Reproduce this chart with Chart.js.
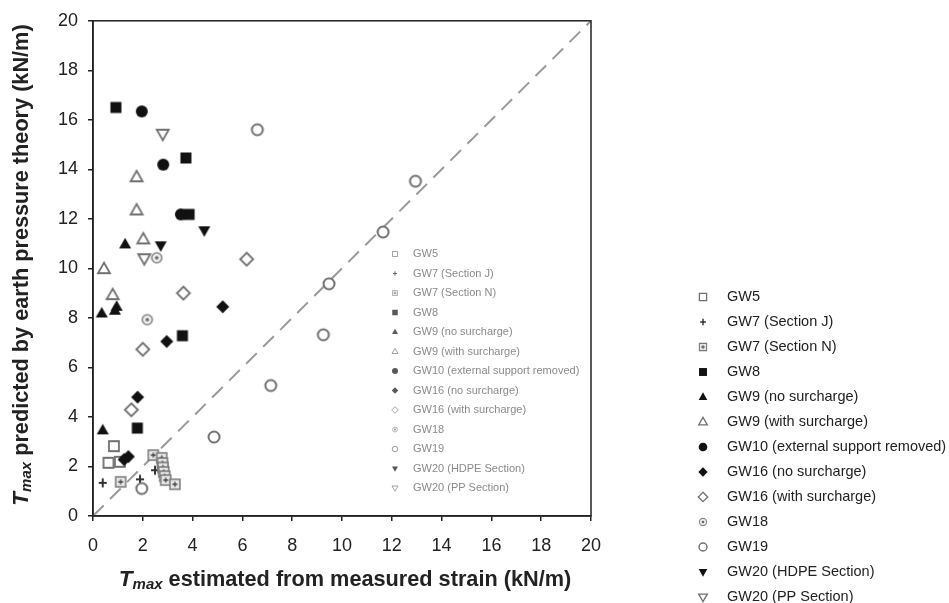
<!DOCTYPE html>
<html>
<head>
<meta charset="utf-8">
<script src="https://cdn.jsdelivr.net/npm/chart.js@4.4.1/dist/chart.umd.min.js"></script>
<style>
  html, body { margin: 0; padding: 0; background: #fff; }
  #wrap { width: 949px; height: 603px; }
</style>
</head>
<body>
<div id="wrap"><canvas id="chart" width="949" height="603"></canvas></div>
<script>
var fontFamily = '"Liberation Sans", Arial, Helvetica, sans-serif';

// Tmax values: x = from measured strain, y = from earth pressure theory (kN/m)
var gw5X = [0.84, 0.62, 1.08];
var gw5Y = [2.82, 2.15, 2.19];
var gw7jX = [0.39, 1.89, 2.49];
var gw7jY = [1.34, 1.48, 1.85];
var gw7nX = [1.11, 2.42, 2.76, 2.79, 2.81, 2.84, 2.88, 2.92, 3.29];
var gw7nY = [1.38, 2.46, 2.35, 2.14, 1.96, 1.78, 1.61, 1.45, 1.28];
var gw8X = [0.92, 3.73, 3.86, 3.59, 1.78];
var gw8Y = [16.5, 14.46, 12.18, 7.28, 3.55];
var gw9noX = [1.29, 0.95, 0.88, 0.35, 0.39];
var gw9noY = [10.97, 8.45, 8.29, 8.18, 3.46];
var gw9withX = [1.75, 1.75, 2.02, 0.44, 0.79];
var gw9withY = [13.68, 12.34, 11.17, 9.97, 8.92];
var gw10X = [1.96, 2.82, 3.53];
var gw10Y = [16.34, 14.19, 12.18];
var gw16noX = [5.21, 2.96, 1.79, 1.42, 1.25];
var gw16noY = [8.45, 7.05, 4.8, 2.4, 2.28];
var gw16withX = [6.17, 3.63, 2.0, 1.54];
var gw16withY = [10.37, 9.0, 6.73, 4.29];
var gw18X = [2.56, 2.18];
var gw18Y = [10.43, 7.93];
var gw19X = [6.6, 12.95, 11.65, 9.48, 9.25, 7.14, 4.86, 1.96];
var gw19Y = [15.6, 13.52, 11.47, 9.38, 7.32, 5.27, 3.19, 1.11];
var gw20hX = [4.47, 2.72];
var gw20hY = [11.54, 10.93];
var gw20pX = [2.8, 2.06];
var gw20pY = [15.44, 10.41];

var seriesNames = ['GW5', 'GW7 (Section J)', 'GW7 (Section N)', 'GW8', 'GW9 (no surcharge)',
  'GW9 (with surcharge)', 'GW10 (external support removed)', 'GW16 (no surcharge)',
  'GW16 (with surcharge)', 'GW18', 'GW19', 'GW20 (HDPE Section)', 'GW20 (PP Section)'];
var seriesX = [gw5X, gw7jX, gw7nX, gw8X, gw9noX, gw9withX, gw10X, gw16noX, gw16withX, gw18X, gw19X, gw20hX, gw20pX];
var seriesY = [gw5Y, gw7jY, gw7nY, gw8Y, gw9noY, gw9withY, gw10Y, gw16noY, gw16withY, gw18Y, gw19Y, gw20hY, gw20pY];
var markerKinds = ['sqOpen', 'plus', 'sqCross', 'sqFill', 'triFill', 'triOpen', 'dotFill',
  'diaFill', 'diaOpen', 'ringDot', 'ring', 'triDownFill', 'triDownOpen'];

var axisTicks = [0, 2, 4, 6, 8, 10, 12, 14, 16, 18, 20];
var oneToOne = [0, 20];

function poly(ctx, pts) {
  ctx.beginPath();
  ctx.moveTo(pts[0][0], pts[0][1]);
  for (var i = 1; i < pts.length; i++) ctx.lineTo(pts[i][0], pts[i][1]);
  ctx.closePath();
}

// draws one marker shape centred on x,y, scaled by s
function drawMarker(ctx, kind, x, y, s) {
  var dark = '#111', grey = '#707070';
  ctx.save();
  ctx.translate(x, y);
  ctx.scale(s, s);
  ctx.lineJoin = 'miter';
  switch (kind) {
    case 'sqOpen':
      ctx.beginPath(); ctx.rect(-5, -5, 10, 10);
      ctx.fillStyle = '#fff'; ctx.fill();
      ctx.strokeStyle = grey; ctx.lineWidth = 1.8; ctx.stroke();
      break;
    case 'plus':
      ctx.beginPath();
      ctx.moveTo(-4, 0); ctx.lineTo(4, 0);
      ctx.moveTo(0, -4.5); ctx.lineTo(0, 4.5);
      ctx.strokeStyle = '#333'; ctx.lineWidth = 2; ctx.stroke();
      break;
    case 'sqCross':
      ctx.beginPath(); ctx.rect(-5, -5, 10, 10);
      ctx.fillStyle = '#e6e6e6'; ctx.fill();
      ctx.strokeStyle = '#7a7a7a'; ctx.lineWidth = 1.5; ctx.stroke();
      ctx.beginPath();
      ctx.moveTo(-2.5, 0); ctx.lineTo(2.5, 0);
      ctx.moveTo(0, -2.5); ctx.lineTo(0, 2.5);
      ctx.strokeStyle = '#444'; ctx.lineWidth = 1.3; ctx.stroke();
      break;
    case 'sqFill':
      ctx.fillStyle = dark; ctx.fillRect(-5.5, -5.5, 11, 11);
      break;
    case 'triFill':
      poly(ctx, [[0, -6.5], [6, 4], [-6, 4]]);
      ctx.fillStyle = dark; ctx.fill();
      break;
    case 'triOpen':
      poly(ctx, [[0, -6.5], [6, 4], [-6, 4]]);
      ctx.fillStyle = '#fff'; ctx.fill();
      ctx.strokeStyle = grey; ctx.lineWidth = 1.8; ctx.stroke();
      break;
    case 'dotFill':
      ctx.beginPath(); ctx.arc(0, 0, 6, 0, Math.PI * 2);
      ctx.fillStyle = dark; ctx.fill();
      break;
    case 'diaFill':
      poly(ctx, [[0, -6.5], [6.5, 0], [0, 6.5], [-6.5, 0]]);
      ctx.fillStyle = dark; ctx.fill();
      break;
    case 'diaOpen':
      poly(ctx, [[0, -6.5], [6.5, 0], [0, 6.5], [-6.5, 0]]);
      ctx.fillStyle = '#fff'; ctx.fill();
      ctx.strokeStyle = grey; ctx.lineWidth = 1.8; ctx.stroke();
      break;
    case 'ringDot':
      ctx.beginPath(); ctx.arc(0, 0, 5, 0, Math.PI * 2);
      ctx.fillStyle = '#efefef'; ctx.fill();
      ctx.strokeStyle = '#888'; ctx.lineWidth = 1.6; ctx.stroke();
      ctx.beginPath(); ctx.arc(0, 0, 1.8, 0, Math.PI * 2);
      ctx.fillStyle = '#666'; ctx.fill();
      break;
    case 'ring':
      ctx.beginPath(); ctx.arc(0, 0, 5.5, 0, Math.PI * 2);
      ctx.fillStyle = '#fff'; ctx.fill();
      ctx.strokeStyle = grey; ctx.lineWidth = 2; ctx.stroke();
      break;
    case 'triDownFill':
      poly(ctx, [[0, 6.5], [6, -4], [-6, -4]]);
      ctx.fillStyle = dark; ctx.fill();
      break;
    case 'triDownOpen':
      poly(ctx, [[0, 6.5], [6, -4], [-6, -4]]);
      ctx.fillStyle = '#fff'; ctx.fill();
      ctx.strokeStyle = grey; ctx.lineWidth = 1.8; ctx.stroke();
      break;
  }
  ctx.restore();
}

function markerCanvas(kind) {
  var c = document.createElement('canvas');
  c.width = 20; c.height = 20;
  drawMarker(c.getContext('2d'), kind, 10, 10, 1);
  return c;
}

var datasets = seriesNames.map(function (name, i) {
  return {
    label: name,
    data: seriesX[i].map(function (x, j) { return { x: x, y: seriesY[i][j] }; }),
    pointStyle: markerCanvas(markerKinds[i]),
    pointRadius: 6,
    order: 13 - i
  };
});

// dashed 1:1 line
datasets.push({
  label: '1:1',
  data: oneToOne.map(function (v) { return { x: v, y: v }; }),
  showLine: true,
  borderColor: '#9a9a9a',
  borderWidth: 2,
  borderDash: [15, 9],
  pointRadius: 0,
  order: 100
});

// draws the two legends, the closed frame and the axis titles
var decorations = {
  id: 'decorations',
  afterDraw: function (chart) {
    var ctx = chart.ctx;
    var area = chart.chartArea;

    ctx.save();
    ctx.strokeStyle = '#222';
    ctx.lineWidth = 1.5;
    ctx.strokeRect(area.left, area.top, area.right - area.left, area.bottom - area.top);

    // small legend inside the plot
    ctx.textBaseline = 'middle';
    ctx.textAlign = 'left';
    ctx.font = '11px ' + fontFamily;
    seriesNames.forEach(function (name, i) {
      var y = 254 + i * 19.5;
      ctx.globalAlpha = 0.7;
      drawMarker(ctx, markerKinds[i], 395, y, 0.5);
      ctx.globalAlpha = 1;
      ctx.fillStyle = '#8a8a8a';
      ctx.fillText(name, 413, y);
    });

    // main legend on the right
    ctx.font = '14.5px ' + fontFamily;
    seriesNames.forEach(function (name, i) {
      var y = 297 + i * 25;
      drawMarker(ctx, markerKinds[i], 703, y, 0.72);
      ctx.fillStyle = '#222';
      ctx.fillText(name, 727, y);
    });

    // axis titles with italic subscript Tmax
    function titleParts() {
      return [
        { t: 'T', f: 'italic bold 22.5px ' + fontFamily, dy: 0 },
        { t: 'max', f: 'italic bold 15px ' + fontFamily, dy: 5 },
        { t: null, f: 'bold 21.7px ' + fontFamily, dy: 0 }
      ];
    }
    function drawTitle(rest, cx, cy, rot) {
      var parts = titleParts();
      parts[2].t = rest;
      var total = 0;
      parts.forEach(function (p) { ctx.font = p.f; p.w = ctx.measureText(p.t).width; total += p.w; });
      ctx.save();
      ctx.translate(cx, cy);
      ctx.rotate(rot);
      ctx.fillStyle = '#222';
      ctx.textAlign = 'left';
      ctx.textBaseline = 'middle';
      var x = -total / 2;
      parts.forEach(function (p) {
        ctx.font = p.f;
        ctx.fillText(p.t, x, p.dy);
        x += p.w;
      });
      ctx.restore();
    }
    drawTitle(' estimated from measured strain (kN/m)', 345, 580, 0);
    drawTitle(' predicted by earth pressure theory (kN/m)', 22, 265, -Math.PI / 2);
    ctx.restore();
  }
};

function axisOptions(fit) {
  return {
    type: 'linear',
    min: 0,
    max: 20,
    afterBuildTicks: function (scale) {
      scale.ticks = axisTicks.map(function (v) { return { value: v }; });
    },
    ticks: {
      color: '#222',
      font: { size: 18, family: fontFamily },
      padding: 12
    },
    grid: {
      drawOnChartArea: false,
      drawTicks: true,
      tickLength: 5,
      color: '#222',
      lineWidth: 1.5
    },
    border: { color: '#222', width: 1.5 },
    afterFit: fit
  };
}

var xAxis = axisOptions(function (scale) { scale.height = 87; });
xAxis.ticks.padding = 14;
var yAxis = axisOptions(function (scale) { scale.width = 93; });
yAxis.ticks.padding = 10;

new Chart(document.getElementById('chart').getContext('2d'), {
  type: 'scatter',
  data: { datasets: datasets },
  options: {
    responsive: false,
    animation: false,
    layout: { padding: { left: 0, right: 358, top: 19, bottom: 0 } },
    plugins: {
      legend: { display: false },
      tooltip: { enabled: false }
    },
    scales: { x: xAxis, y: yAxis }
  },
  plugins: [decorations]
});
</script>
</body>
</html>
